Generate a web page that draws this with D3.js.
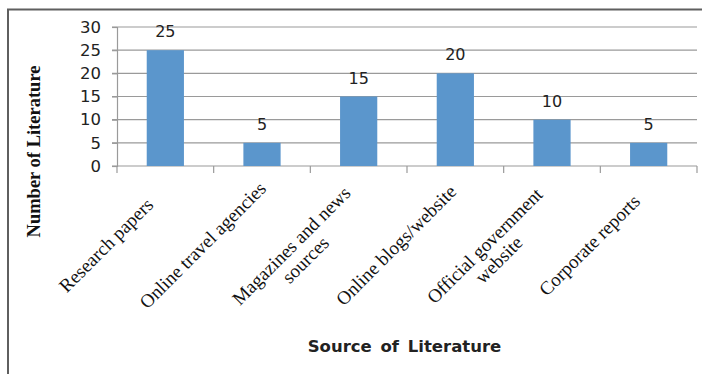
<!DOCTYPE html>
<html>
<head>
<meta charset="utf-8">
<script src="https://cdn.jsdelivr.net/npm/d3@7"></script>
<style>
  html, body { margin: 0; padding: 0; background: #fff; }
  svg { display: block; }
</style>
</head>
<body>
<div id="chart"></div>
<script>
// chart values
const categories = [
  "Research papers",
  "Online travel agencies",
  "Magazines and news\nsources",
  "Online blogs/website",
  "Official government\nwebsite",
  "Corporate reports"
];
const counts = [25, 5, 15, 20, 10, 5];
const yTicks = [0, 5, 10, 15, 20, 25, 30];

const width = 702, height = 374;
const plot = { left: 117, right: 697, top: 27, bottom: 166 };

const svg = d3.select("#chart").append("svg")
  .attr("width", width)
  .attr("height", height);

// frame around the picture (top and left edges only are visible)
svg.append("path")
  .attr("d", "M8,374 V9.5 H702")
  .attr("fill", "none")
  .attr("stroke", "#5f5f5f")
  .attr("stroke-width", 2);

const x = d3.scaleBand()
  .domain(d3.range(categories.length))
  .range([plot.left, plot.right])
  .paddingInner(0.615)
  .paddingOuter(0.3075);

const y = d3.scaleLinear()
  .domain([0, 30])
  .range([plot.bottom, plot.top]);

// gridlines
svg.append("g")
  .selectAll("line")
  .data(yTicks)
  .join("line")
  .attr("x1", plot.left - 5)
  .attr("x2", plot.right)
  .attr("y1", d => y(d))
  .attr("y2", d => y(d))
  .attr("stroke", "#9a9a9a")
  .attr("stroke-width", 1.2);

// y axis
const yAxis = svg.append("g")
  .attr("transform", `translate(${plot.left},0)`)
  .call(d3.axisLeft(y).tickValues(yTicks).tickSize(5).tickPadding(11));
yAxis.select(".domain").attr("stroke", "#9a9a9a").attr("stroke-width", 1.2);
yAxis.selectAll(".tick line").attr("stroke", "#9a9a9a").attr("stroke-width", 1.2);
yAxis.selectAll("text")
  .attr("font-family", "DejaVu Sans")
  .attr("font-size", 16.5)
  .attr("fill", "#222");

// x axis ticks between categories
const step = x.step();
const bounds = d3.range(categories.length + 1).map(i => plot.left + i * step);
svg.append("g")
  .selectAll("line")
  .data(bounds)
  .join("line")
  .attr("x1", d => d)
  .attr("x2", d => d)
  .attr("y1", plot.bottom)
  .attr("y2", plot.bottom + 7)
  .attr("stroke", "#9a9a9a")
  .attr("stroke-width", 1.2);

// bars
svg.append("g")
  .selectAll("rect")
  .data(counts)
  .join("rect")
  .attr("x", (d, i) => x(i))
  .attr("y", d => y(d))
  .attr("width", x.bandwidth())
  .attr("height", d => y(0) - y(d))
  .attr("fill", "#5b96cc");

// value labels
svg.append("g")
  .selectAll("text")
  .data(counts)
  .join("text")
  .attr("x", (d, i) => x(i) + x.bandwidth() / 2)
  .attr("y", d => y(d) - 13)
  .attr("text-anchor", "middle")
  .attr("font-family", "DejaVu Sans")
  .attr("font-size", 16)
  .attr("fill", "#222")
  .text(d => d);

// category labels, rotated
const lineH = 20;
const catLabels = svg.append("g")
  .selectAll("text")
  .data(categories)
  .join("text")
  .attr("transform", (d, i) => {
    const n = d.split("\n").length;
    const cx = x(i) + x.bandwidth() / 2 - 59 - (n - 1);
    const cy = 245.5 + (n - 1) * 7.5;
    return `translate(${cx},${cy}) rotate(-45)`;
  })
  .attr("text-anchor", "middle")
  .attr("font-family", "Liberation Serif")
  .attr("font-size", 19)
  .attr("fill", "#111");

catLabels.selectAll("tspan")
  .data(d => {
    const lines = d.split("\n");
    return lines.map((t, k) => ({ t, off: (k - (lines.length - 1) / 2) * lineH }));
  })
  .join("tspan")
  .attr("x", 0)
  .attr("y", d => d.off + 6)
  .text(d => d.t);

// axis titles
svg.append("text")
  .attr("transform", "translate(40,151.5) rotate(-90)")
  .attr("text-anchor", "middle")
  .attr("font-family", "Liberation Serif")
  .attr("font-weight", "bold")
  .attr("font-size", 18.5)
  .attr("fill", "#111")
  .text("Number of Literature");

svg.append("text")
  .attr("x", 404.5)
  .attr("y", 352)
  .attr("text-anchor", "middle")
  .attr("font-family", "DejaVu Sans")
  .attr("font-weight", "bold")
  .attr("font-size", 16.5)
  .attr("word-spacing", 3)
  .attr("fill", "#222")
  .text("Source of Literature");
</script>
</body>
</html>
